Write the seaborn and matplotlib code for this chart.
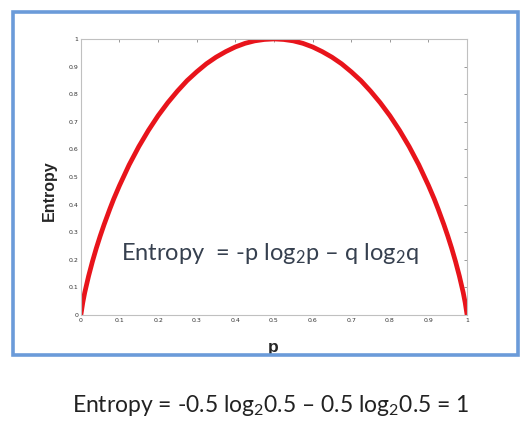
import matplotlib.pyplot as plt
import matplotlib.patches as patches
import pandas as pd
import seaborn as sns

# values
p_values = [0.0, 0.005, 0.01, 0.02, 0.03, 0.04, 0.05, 0.06, 0.075, 0.085, 0.1, 0.125, 0.15,
            0.175, 0.2, 0.225, 0.25, 0.275, 0.3, 0.325, 0.35, 0.375, 0.4, 0.425, 0.45, 0.475,
            0.5, 0.525, 0.55, 0.575, 0.6, 0.625, 0.65, 0.675, 0.7, 0.725, 0.75, 0.775, 0.8,
            0.825, 0.85, 0.875, 0.9, 0.915, 0.925, 0.94, 0.95, 0.96, 0.97, 0.98, 0.99, 0.995, 1.0]
entropy_values = [0.0, 0.045, 0.081, 0.141, 0.194, 0.242, 0.286, 0.327, 0.384, 0.42, 0.469,
                  0.544, 0.61, 0.669, 0.722, 0.769, 0.811, 0.849, 0.881, 0.91, 0.934, 0.954,
                  0.971, 0.984, 0.993, 0.998, 1.0, 0.998, 0.993, 0.984, 0.971, 0.954, 0.934,
                  0.91, 0.881, 0.849, 0.811, 0.769, 0.722, 0.669, 0.61, 0.544, 0.469, 0.42,
                  0.384, 0.327, 0.286, 0.242, 0.194, 0.141, 0.081, 0.045, 0.0]
tick_values = [0, 0.1, 0.2, 0.3, 0.4, 0.5, 0.6, 0.7, 0.8, 0.9, 1]
tick_labels = ['0', '0.1', '0.2', '0.3', '0.4', '0.5', '0.6', '0.7', '0.8', '0.9', '1']

df = pd.DataFrame({'p': p_values, 'Entropy': entropy_values})

sns.set_style('white')
plt.rcParams['font.family'] = ['DejaVu Sans']

fig = plt.figure(figsize=(5.32, 4.26), dpi=100)
ax = fig.add_axes([0.152, 0.2606, 0.726, 0.648])

sns.lineplot(data=df, x='p', y='Entropy', color='#e8141b', linewidth=3.4, ax=ax)

ax.set_xlim(0, 1)
ax.set_ylim(0, 1)
ax.set_xticks(tick_values)
ax.set_xticklabels(tick_labels)
ax.set_yticks(tick_values)
ax.set_yticklabels(tick_labels)
ax.tick_params(axis='both', direction='in', length=2.5, width=0.6, color='#888888',
               labelsize=4.5, labelcolor='#333333', pad=2, top=True, right=True)
for s in ax.spines.values():
    s.set_color('#c0c0c0')
    s.set_linewidth(0.8)

ax.set_xlabel('p', fontsize=12.5, fontweight='bold', family='Liberation Sans')
ax.set_ylabel('Entropy', fontsize=11.5, fontweight='bold', family='Liberation Sans')
ax.xaxis.set_label_coords(0.497, -0.09)
ax.yaxis.set_label_coords(-0.062, 0.45)

plt.rcParams['mathtext.fontset'] = 'custom'
plt.rcParams['mathtext.rm'] = 'Lato'
plt.rcParams['mathtext.it'] = 'Lato'

fig.text(270 / 532, 1 - 253 / 426, r'Entropy  = -p log$\mathrm{_2}$p – q log$\mathrm{_2}$q',
         ha='center', va='center', fontsize=17, color='#36404f', family='Lato')
fig.text(271 / 532, 1 - 405 / 426, r'Entropy = -0.5 log$\mathrm{_2}$0.5 – 0.5 log$\mathrm{_2}$0.5 = 1',
         ha='center', va='center', fontsize=16.5, color='#222222', family='Lato')

border = patches.Rectangle((13 / 532, 1 - 355 / 426), 505 / 532, 343 / 426,
                           transform=fig.transFigure, fill=False,
                           edgecolor='#6b9bd9', linewidth=2.6)
fig.patches.append(border)

fig.savefig('out.png', dpi=100)
